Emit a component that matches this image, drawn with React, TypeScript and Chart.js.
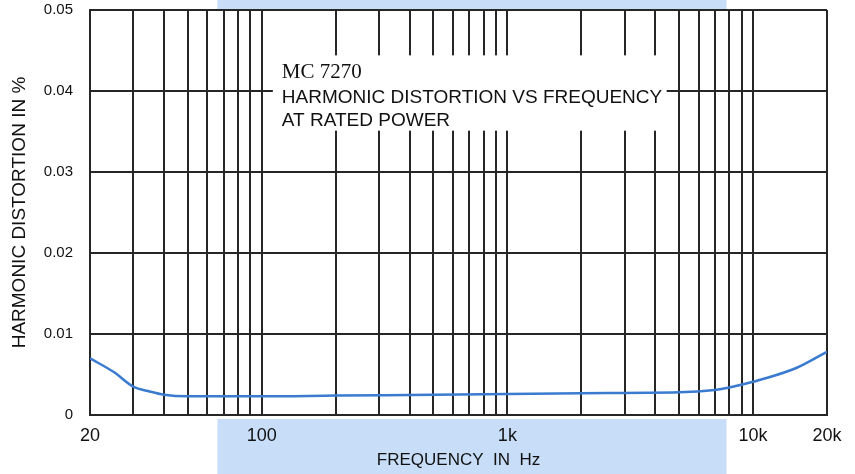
import React, { useEffect, useRef } from 'react';
import { Chart, registerables } from 'chart.js';

Chart.register(...registerables);

// ---- data ----
const frequencies = [20, 25, 30, 35, 40, 50, 70, 100, 200, 500, 1000, 2000, 5000, 7000, 8000, 10000, 15000, 20000];
const distortion = [0.0070, 0.0053, 0.0035, 0.0029, 0.0025, 0.0023, 0.0023, 0.0023, 0.0024, 0.0025, 0.0026, 0.0027, 0.0028, 0.0031, 0.0034, 0.0041, 0.0058, 0.0078];

const gridFrequencies = [
  20, 30, 40, 50, 60, 70, 80, 90,
  100, 200, 300, 400, 500, 600, 700, 800, 900,
  1000, 2000, 3000, 4000, 5000, 6000, 7000, 8000, 9000,
  10000, 20000,
];
const xTickValues = [20, 100, 1000, 10000, 20000];
const xTickLabels = ['20', '100', '1k', '10k', '20k'];
const yTickValues = [0, 0.01, 0.02, 0.03, 0.04, 0.05];
const yTickLabels = ['0', '0.01', '0.02', '0.03', '0.04', '0.05'];

const titleLines = ['MC 7270', 'HARMONIC DISTORTION VS FREQUENCY', 'AT RATED POWER'];
const xAxisTitle = 'FREQUENCY  IN  Hz';
const yAxisTitle = 'HARMONIC DISTORTION IN %';

// frequency span of the light-blue scan bands, and the title box region
const bandFreqs = [66, 7800];
const titleBoxFreqs = [111, 4450];
const titleBoxValues = [0.0444, 0.0351];

const GRID = '#262626';
const SANS = 'Arial, "Liberation Sans", sans-serif';

const decorPlugin = {
  id: 'decor',
  beforeDraw(chart: any) {
    const { ctx, scales } = chart;
    const x = scales.x;
    const ca = chart.chartArea;
    const x0 = x.getPixelForValue(bandFreqs[0]);
    const x1 = x.getPixelForValue(bandFreqs[1]);
    ctx.save();
    ctx.fillStyle = '#c8ddf8';
    ctx.fillRect(x0, 0, x1 - x0, ca.top - 1);
    ctx.fillRect(x0, ca.bottom + 4, x1 - x0, chart.height - ca.bottom - 4);
    ctx.restore();
  },
  afterDraw(chart: any) {
    const { ctx, scales } = chart;
    const x = scales.x;
    const y = scales.y;
    const ca = chart.chartArea;
    const bx0 = x.getPixelForValue(titleBoxFreqs[0]);
    const bx1 = x.getPixelForValue(titleBoxFreqs[1]);
    const by0 = y.getPixelForValue(titleBoxValues[0]);
    const by1 = y.getPixelForValue(titleBoxValues[1]);
    ctx.save();
    ctx.fillStyle = '#ffffff';
    ctx.fillRect(bx0, by0, bx1 - bx0, by1 - by0);
    ctx.fillStyle = '#111111';
    ctx.textBaseline = 'alphabetic';
    ctx.textAlign = 'left';
    const tx = bx0 + 9;
    ctx.font = '21px "Liberation Serif", "Times New Roman", serif';
    ctx.fillText(titleLines[0], tx, by0 + 23);
    ctx.font = '19px ' + SANS;
    ctx.fillText(titleLines[1], tx, by0 + 48);
    ctx.fillText(titleLines[2], tx, by0 + 71);
    ctx.restore();

    // y-axis title
    ctx.save();
    ctx.fillStyle = '#111111';
    ctx.font = '19px ' + SANS;
    ctx.textAlign = 'center';
    ctx.textBaseline = 'middle';
    ctx.translate(20, (ca.top + ca.bottom) / 2);
    ctx.rotate(-Math.PI / 2);
    ctx.fillText(yAxisTitle, 0, 0);
    ctx.restore();
  },
};

export default function App() {
  const ref = useRef<HTMLCanvasElement | null>(null);
  useEffect(() => {
    if (!ref.current) return;
    const chart = new Chart(ref.current, {
      type: 'line',
      data: {
        datasets: [
          {
            data: frequencies.map((f, i) => ({ x: f, y: distortion[i] })),
            borderColor: '#3a7bd0',
            borderWidth: 2.5,
            pointRadius: 0,
            cubicInterpolationMode: 'monotone',
            fill: false,
          },
        ],
      },
      options: {
        responsive: false,
        animation: false,
        devicePixelRatio: 1,
        layout: { autoPadding: false, padding: { top: 10, right: 28, left: 0, bottom: 0 } },
        plugins: { legend: { display: false }, tooltip: { enabled: false } },
        scales: {
          x: {
            type: 'logarithmic',
            min: 20,
            max: 20000,
            afterBuildTicks: (scale: any) => {
              scale.ticks = gridFrequencies.map((v) => ({ value: v }));
            },
            afterFit: (scale: any) => {
              scale.height = 59;
              scale.paddingLeft = 0;
              scale.paddingRight = 0;
              scale.paddingTop = 0;
              scale.paddingBottom = 0;
            },
            ticks: {
              autoSkip: false,
              maxRotation: 0,
              minRotation: 0,
              padding: 10,
              color: '#111',
              font: { family: SANS, size: 18 },
              callback: (v: any) => {
                const i = xTickValues.indexOf(Number(v));
                return i >= 0 ? xTickLabels[i] : '';
              },
            },
            grid: { color: GRID, lineWidth: 2, drawTicks: false },
            border: { color: GRID, width: 2 },
            title: {
              display: true,
              text: xAxisTitle,
              color: '#111',
              font: { family: SANS, size: 17 },
              padding: { top: 0, bottom: 3 },
            },
          },
          y: {
            type: 'linear',
            min: 0,
            max: 0.05,
            afterBuildTicks: (scale: any) => {
              scale.ticks = yTickValues.map((v) => ({ value: v }));
            },
            afterFit: (scale: any) => {
              scale.width = 90;
              scale.paddingTop = 0;
              scale.paddingBottom = 0;
              scale.paddingLeft = 0;
              scale.paddingRight = 0;
            },
            ticks: {
              padding: 17,
              color: '#111',
              font: { family: SANS, size: 15 },
              callback: (v: any) => {
                const i = yTickValues.findIndex((t) => Math.abs(t - Number(v)) < 1e-9);
                return i >= 0 ? yTickLabels[i] : '';
              },
            },
            grid: { color: GRID, lineWidth: 2, drawTicks: false },
            border: { color: GRID, width: 2 },
            title: { display: false },
          },
        },
      },
      plugins: [decorPlugin],
    } as any);
    return () => chart.destroy();
  }, []);
  return (
    <div style={{ position: 'fixed', left: 0, top: 0, width: 855, height: 474, background: '#fff' }}>
      <canvas ref={ref} width={855} height={474} />
    </div>
  );
}
